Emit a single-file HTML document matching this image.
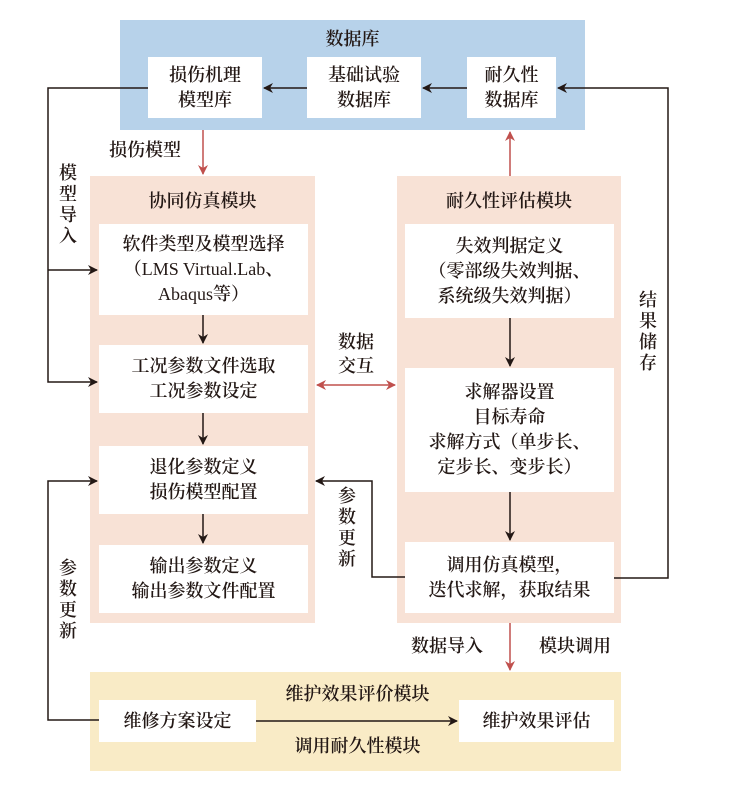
<!DOCTYPE html>
<html><head><meta charset="utf-8"><style>
body{margin:0;background:#fff;}
#c{position:relative;width:746px;height:789px;overflow:hidden;font-family:"Liberation Serif","Noto Serif CJK SC","Noto Sans CJK SC",serif;color:#231815;}
.b{position:absolute;box-sizing:border-box;}
.w{position:absolute;background:#fff;display:flex;align-items:center;justify-content:center;text-align:center;font-size:18px;line-height:25px;box-sizing:border-box;font-weight:600;}
.t{position:absolute;font-size:18px;line-height:20px;text-align:center;font-weight:600;}
.v{position:absolute;font-size:18px;line-height:21px;width:20px;text-align:center;font-weight:600;}
.n{font-weight:normal;}
svg{position:absolute;left:0;top:0;}
</style></head><body><div id="c">
<div class="b" style="left:120px;top:20px;width:465px;height:110px;background:#b7d2ea"></div>
<div class="b" style="left:90px;top:176px;width:225px;height:447px;background:#f8e2d6"></div>
<div class="b" style="left:397px;top:176px;width:224px;height:447px;background:#f8e2d6"></div>
<div class="b" style="left:90px;top:672px;width:531px;height:99px;background:#f9ebc6"></div>

<div class="t" style="left:120px;top:29px;width:465px;">数据库</div>
<div class="w" style="left:148px;top:57px;width:114px;height:61px;">损伤机理<br>模型库</div>
<div class="w" style="left:307px;top:57px;width:114px;height:61px;">基础试验<br>数据库</div>
<div class="w" style="left:467px;top:57px;width:89px;height:61px;">耐久性<br>数据库</div>

<div class="t" style="left:90px;top:191px;width:225px;">协同仿真模块</div>
<div class="t" style="left:397px;top:191px;width:224px;">耐久性评估模块</div>

<div class="w" style="left:99px;top:224px;width:209px;height:91px;"><div>软件类型及模型选择<br>（<span class="n">LMS Virtual.Lab</span>、<br><span class="n">Abaqus</span>等）</div></div>
<div class="w" style="left:99px;top:345px;width:209px;height:68px;">工况参数文件选取<br>工况参数设定</div>
<div class="w" style="left:99px;top:446px;width:209px;height:68px;">退化参数定义<br>损伤模型配置</div>
<div class="w" style="left:99px;top:545px;width:209px;height:68px;">输出参数定义<br>输出参数文件配置</div>

<div class="w" style="left:405px;top:224px;width:209px;height:94px;">失效判据定义<br>（零部级失效判据、<br>系统级失效判据）</div>
<div class="w" style="left:405px;top:368px;width:209px;height:124px;">求解器设置<br>目标寿命<br>求解方式（单步长、<br>定步长、变步长）</div>
<div class="w" style="left:405px;top:542px;width:209px;height:71px;">调用仿真模型，<br>迭代求解，获取结果</div>

<div class="w" style="left:99px;top:700px;width:157px;height:42px;">维修方案设定</div>
<div class="w" style="left:459px;top:700px;width:155px;height:42px;">维护效果评估</div>
<div class="t" style="left:256px;top:684px;width:203px;">维护效果评价模块</div>
<div class="t" style="left:256px;top:736px;width:203px;">调用耐久性模块</div>

<div class="t" style="left:100px;top:140px;width:90px;">损伤模型</div>
<div class="t" style="left:318px;top:330px;width:76px;line-height:24px;">数据<br>交互</div>
<div class="t" style="left:402px;top:636px;width:90px;">数据导入</div>
<div class="t" style="left:530px;top:636px;width:90px;">模块调用</div>
<div class="v" style="left:58px;top:163px;">模<br>型<br>导<br>入</div>
<div class="v" style="left:58px;top:558px;">参<br>数<br>更<br>新</div>
<div class="v" style="left:337px;top:486px;">参<br>数<br>更<br>新</div>
<div class="v" style="left:638px;top:290px;">结<br>果<br>储<br>存</div>

<svg width="746" height="789" viewBox="0 0 746 789">
<defs>
<marker id="k" markerWidth="10" markerHeight="10" refX="9" refY="5" orient="auto" markerUnits="userSpaceOnUse"><path d="M0,0 L10,5 L0,10 L3,5 z" fill="#231815"/></marker>
<marker id="r" markerWidth="10" markerHeight="10" refX="9" refY="5" orient="auto-start-reverse" markerUnits="userSpaceOnUse"><path d="M0,0 L10,5 L0,10 L3,5 z" fill="#c0504d"/></marker>
</defs>
<g stroke="#231815" stroke-width="1.5" fill="none">
<line x1="307" y1="88" x2="264" y2="88" marker-end="url(#k)"/>
<line x1="467" y1="88" x2="423" y2="88" marker-end="url(#k)"/>
<polyline points="148,88 48,88 48,382 97,382" marker-end="url(#k)"/>
<line x1="48" y1="270" x2="97" y2="270" marker-end="url(#k)"/>
<polyline points="99,720 48,720 48,481 97,481" marker-end="url(#k)"/>
<polyline points="614,578 668,578 668,88 558,88" marker-end="url(#k)"/>
<polyline points="405,577 372,577 372,481 316,481" marker-end="url(#k)"/>
<line x1="203" y1="315" x2="203" y2="343" marker-end="url(#k)"/>
<line x1="203" y1="413" x2="203" y2="444" marker-end="url(#k)"/>
<line x1="203" y1="514" x2="203" y2="543" marker-end="url(#k)"/>
<line x1="510" y1="318" x2="510" y2="366" marker-end="url(#k)"/>
<line x1="510" y1="492" x2="510" y2="540" marker-end="url(#k)"/>
<line x1="256" y1="721" x2="457" y2="721" marker-end="url(#k)"/>
</g>
<g stroke="#c0504d" stroke-width="1.5" fill="none">
<line x1="203" y1="130" x2="203" y2="174" marker-end="url(#r)"/>
<line x1="510" y1="176" x2="510" y2="132" marker-end="url(#r)"/>
<line x1="510" y1="623" x2="510" y2="670" marker-end="url(#r)"/>
<line x1="317" y1="385" x2="395" y2="385" marker-start="url(#r)" marker-end="url(#r)"/>
</g>
</svg>
</div></body></html>
